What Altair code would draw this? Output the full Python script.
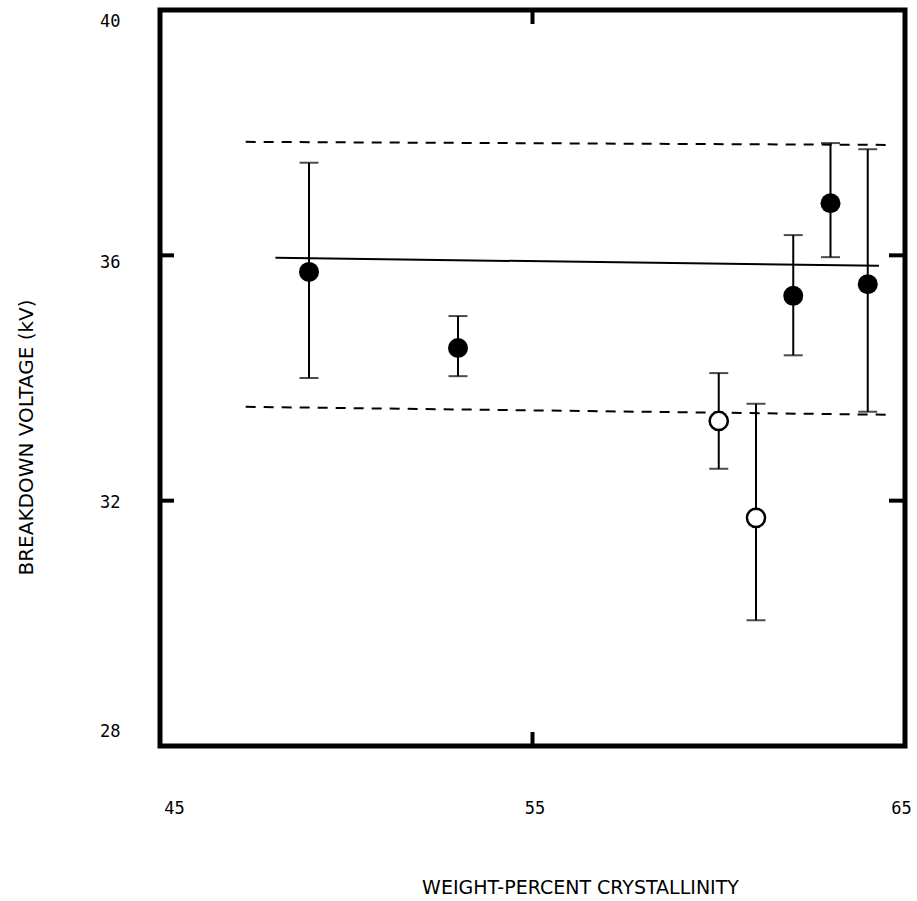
import altair as alt
import pandas as pd

# Data points (weight-percent crystallinity vs breakdown voltage)
x_vals = [49, 53, 60, 61, 62, 63, 64]
y_vals = [35.73, 34.49, 33.30, 31.72, 35.34, 36.85, 35.53]
y_hi = [37.51, 35.01, 34.08, 33.58, 36.33, 37.83, 37.73]
y_lo = [34.00, 34.03, 32.52, 30.05, 34.37, 35.97, 33.45]
filled = [True, True, False, False, True, True, True]

# Mean line and +/- band (dashed)
mean_x = [48.1, 64.3]
mean_y = [35.96, 35.83]
upper_x = [47.3, 64.6]
upper_y = [37.85, 37.80]
lower_x = [47.3, 64.6]
lower_y = [33.53, 33.40]

y_tick_vals = [32, 36]
x_tick_vals = [55]

pts = pd.DataFrame({"x": x_vals, "y": y_vals, "lo": y_lo, "hi": y_hi, "filled": filled})
mean_df = pd.DataFrame({"x": mean_x, "y": mean_y})
band_df = pd.DataFrame({
    "x": upper_x + lower_x,
    "y": upper_y + lower_y,
    "g": ["upper", "upper", "lower", "lower"],
})
yt = pd.DataFrame({"v": y_tick_vals})
xt = pd.DataFrame({"v": x_tick_vals})

W, H = 745, 736

xscale = alt.Scale(domain=[45, 65], nice=False, zero=False)
yscale = alt.Scale(domain=[28, 40], nice=False, zero=False)

xaxis = alt.Axis(
    values=[45, 55, 65], ticks=False, domain=False, grid=False, format="d",
    labelFont="DejaVu Sans Mono", labelFontSize=17, labelColor="black",
    labelPadding=54, labelBaseline="top",
    labelOffset={"expr": "datum.value == 45 ? 14 : datum.value == 55 ? 2 : -4"},
    title="WEIGHT-PERCENT CRYSTALLINITY", titleFont="DejaVu Sans",
    titleFontSize=19, titleFontWeight="normal", titleColor="black",
    titleX=420, titleY=141, titleBaseline="middle", titleAlign="center",
    labelFlush=False,
)
yaxis = alt.Axis(
    values=[28, 32, 36, 40], ticks=False, domain=False, grid=False, format="d",
    labelFont="DejaVu Sans Mono", labelFontSize=17, labelColor="black",
    labelPadding=40, labelAlign="right", labelBaseline="middle",
    labelOffset={"expr": "datum.value == 40 ? 11 : datum.value == 36 ? 7 : datum.value == 32 ? 2 : -15"},
    title="BREAKDOWN VOLTAGE (kV)", titleFont="DejaVu Sans",
    titleFontSize=20, titleFontWeight="normal", titleColor="black",
    titleAngle=-90, titleX=-134, titleY=427, titleBaseline="middle", titleAlign="center",
    labelFlush=False,
)

base_x = alt.X("x:Q", scale=xscale, axis=xaxis)
base_y = alt.Y("y:Q", scale=yscale, axis=yaxis)

mean_line = alt.Chart(mean_df).mark_line(color="black", strokeWidth=2).encode(x=base_x, y=base_y)

band_lines = alt.Chart(band_df).mark_line(color="black", strokeWidth=2, strokeDash=[10, 8]).encode(
    x=alt.X("x:Q", scale=xscale), y=alt.Y("y:Q", scale=yscale), detail="g:N"
)

err = alt.Chart(pts).mark_rule(color="black", strokeWidth=2).encode(
    x=alt.X("x:Q", scale=xscale), y=alt.Y("lo:Q", scale=yscale), y2="hi:Q"
)
cap_hi = alt.Chart(pts).mark_tick(color="black", thickness=2, size=19, orient="horizontal").encode(
    x=alt.X("x:Q", scale=xscale), y=alt.Y("hi:Q", scale=yscale)
)
cap_lo = alt.Chart(pts).mark_tick(color="black", thickness=2, size=19, orient="horizontal").encode(
    x=alt.X("x:Q", scale=xscale), y=alt.Y("lo:Q", scale=yscale)
)

filled_pts = alt.Chart(pts).transform_filter("datum.filled").mark_point(
    shape="circle", filled=True, color="black", size=400, opacity=1
).encode(x=alt.X("x:Q", scale=xscale), y=alt.Y("y:Q", scale=yscale))

open_pts = alt.Chart(pts).transform_filter("!datum.filled").mark_point(
    shape="circle", filled=True, fill="white", stroke="black", strokeWidth=2.5, size=330, opacity=1
).encode(x=alt.X("x:Q", scale=xscale), y=alt.Y("y:Q", scale=yscale))

# inward frame ticks
ytick_left = alt.Chart(yt).mark_rule(color="black", strokeWidth=4).encode(
    y=alt.Y("v:Q", scale=yscale), x=alt.value(0), x2=alt.value(14)
)
ytick_right = alt.Chart(yt).mark_rule(color="black", strokeWidth=4).encode(
    y=alt.Y("v:Q", scale=yscale), x=alt.value(W - 16), x2=alt.value(W)
)
xtick_top = alt.Chart(xt).mark_rule(color="black", strokeWidth=4).encode(
    x=alt.X("v:Q", scale=xscale), y=alt.value(0), y2=alt.value(14)
)
xtick_bot = alt.Chart(xt).mark_rule(color="black", strokeWidth=4).encode(
    x=alt.X("v:Q", scale=xscale), y=alt.value(H - 14), y2=alt.value(H)
)

chart = alt.layer(
    mean_line, band_lines, err, cap_hi, cap_lo, open_pts, filled_pts,
    ytick_left, ytick_right, xtick_top, xtick_bot,
).properties(
    width=W, height=H,
    autosize=alt.AutoSizeParams(type="none"),
    padding={"left": 160, "top": 10, "right": 12, "bottom": 155},
).configure(
    background="white",
    view=alt.ViewConfig(stroke="black", strokeWidth=5),
)

chart.save("out.html", embed_options={"renderer": "svg", "actions": False})
